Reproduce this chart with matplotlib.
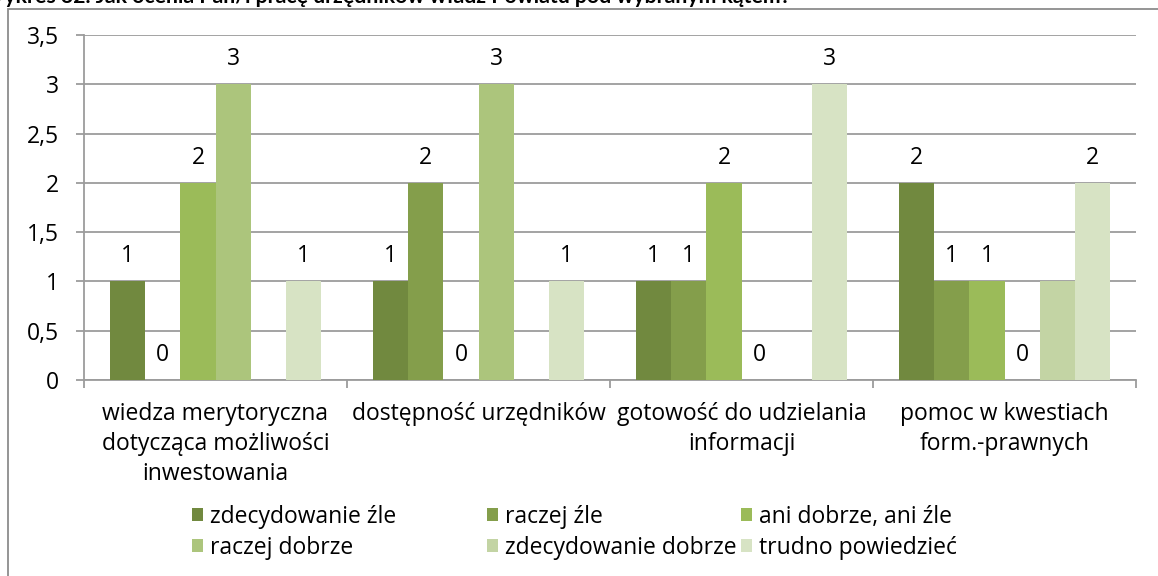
import numpy as np
import matplotlib
matplotlib.use('Agg')
import matplotlib.pyplot as plt
from matplotlib.patches import Rectangle, Patch

plt.rcParams['font.family'] = ['Open Sans', 'DejaVu Sans']

# data
categories = ['wiedza merytoryczna\ndotycząca możliwości\ninwestowania',
              'dostępność urzędników',
              'gotowość do udzielania\ninformacji',
              'pomoc w kwestiach\nform.-prawnych']
series_names = ['zdecydowanie źle', 'raczej źle', 'ani dobrze, ani źle',
                'raczej dobrze', 'zdecydowanie dobrze', 'trudno powiedzieć']
# None = no bar and no label
zdecydowanie_zle = [1, 1, 1, 2]
raczej_zle = [0, 2, 1, 1]
ani_dobrze_ani_zle = [2, 0, 2, 1]
raczej_dobrze = [3, 3, 0, 0]
zdecydowanie_dobrze = [None, None, None, 1]
trudno_powiedziec = [1, 1, 3, 2]
# labels shown above bars (the last group's "zdecydowanie dobrze" bar has none)
show_label = [[True] * 4, [True] * 4, [True] * 4, [True] * 4,
              [False, False, False, False], [True] * 4]

series = [zdecydowanie_zle, raczej_zle, ani_dobrze_ani_zle,
          raczej_dobrze, zdecydowanie_dobrze, trudno_powiedziec]
colors = ['#71893F', '#849E4B', '#9BBB59', '#ACC57C', '#C3D4A4', '#D7E3C4']

FS = 16.5

fig = plt.figure(figsize=(11.58, 5.76), dpi=100)
ax = fig.add_axes([84 / 1158, 1 - 380 / 576, (1136 - 84) / 1158, (380 - 35) / 576])

x = np.arange(len(categories))
w = 0.8 / 6
for i, (vals, c) in enumerate(zip(series, colors)):
    pos = x - 0.4 + w * (i + 0.5)
    for j, v in enumerate(vals):
        if v is None:
            continue
        ax.bar(pos[j], v, width=w, color=c, zorder=3)
        if show_label[i][j]:
            ax.annotate(str(v), (pos[j], v), xytext=(0, 18), textcoords='offset points',
                        ha='center', va='center', fontsize=FS, color='black')

ax.set_xlim(-0.5, len(categories) - 0.5)
ax.set_ylim(0, 3.5)
yt = np.arange(0, 3.51, 0.5)
ax.set_yticks(yt)
ax.set_yticklabels([('%g' % t).replace('.', ',') for t in yt], fontsize=FS)
ax.yaxis.grid(True, color='#9C9C9C', linewidth=1.3, zorder=0)
ax.set_axisbelow(True)
ax.tick_params(axis='y', length=6, width=1.3, color='#9C9C9C', pad=12)

# category ticks at boundaries, labels at centres
ax.set_xticks(np.arange(-0.5, len(categories)), minor=False)
ax.set_xticklabels([])
ax.set_xticks(x, minor=True)
ax.set_xticklabels(categories, minor=True, fontsize=FS, linespacing=1.33)
ax.tick_params(axis='x', which='major', length=6, width=1.3, color='#9C9C9C', direction='out')
ax.tick_params(axis='x', which='minor', length=0, pad=16)

for s in ['top', 'right']:
    ax.spines[s].set_visible(False)
for s in ['left', 'bottom']:
    ax.spines[s].set_color('#9C9C9C')
    ax.spines[s].set_linewidth(1.3)

# legend: three columns placed like the source (row-wise order)
col_x = [192, 487, 741]
for k in range(3):
    idx = [k, k + 3]
    fig.legend([Patch(facecolor=colors[i], edgecolor='none') for i in idx],
               [series_names[i] for i in idx], loc='upper left',
               bbox_to_anchor=(col_x[k] / 1158, 1 - 505 / 576), ncol=1, frameon=False,
               fontsize=FS, handlelength=0.5, handleheight=0.5, handletextpad=0.3,
               labelspacing=0.3, borderpad=0, borderaxespad=0)

# outer chart frame
fig.patches.append(Rectangle((8 / 1158, -0.05), 1.2, 1 - 9 / 576 + 0.05, transform=fig.transFigure,
                             facecolor='none', edgecolor='#8C8C8C', linewidth=1.3))

# title, cut off by the top edge as in the source
fig.text(-18 / 1158, 1 - 3 / 576,
         'Wykres 32. Jak ocenia Pan/i pracę urzędników władz Powiatu pod wybranym kątem?',
         fontsize=15.3, fontweight='bold', family=['Lato', 'DejaVu Sans'],
         ha='left', va='baseline')

fig.savefig('out.png', dpi=100)
